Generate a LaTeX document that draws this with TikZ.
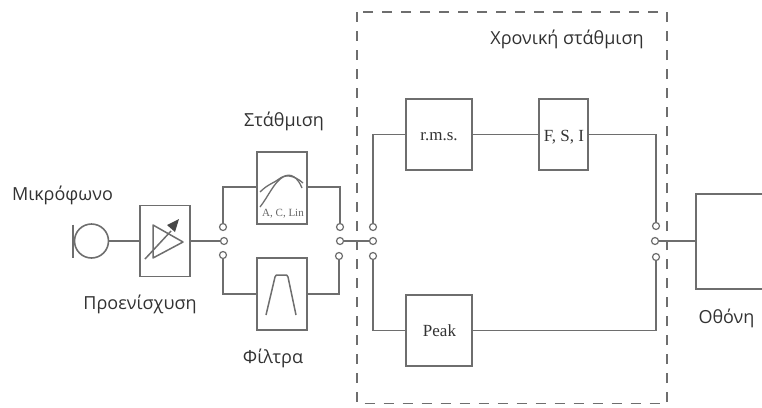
\documentclass[tikz,border=0pt]{standalone}
\usepackage{fontspec}
\setmainfont{Open Sans}
\newfontfamily\serifbox{Liberation Serif}
\definecolor{ln}{RGB}{110,110,110}
\definecolor{txt}{RGB}{50,50,50}
\tikzset{
  wire/.style={draw=ln,line width=1.6pt},
  blk/.style={draw=ln,line width=1.6pt,fill=white,minimum width=#1,inner sep=0pt},
  term/.style={circle,draw=ln,line width=1.2pt,fill=white,minimum size=7pt,inner sep=0pt},
  lab/.style={text=txt,font=\fontsize{18pt}{20pt}\selectfont,inner sep=0pt},
  boxlab/.style={text=black!80,font=\serifbox\fontsize{17pt}{19pt}\selectfont,inner sep=0pt},
}
\begin{document}
\begin{tikzpicture}[x=1pt,y=-1pt]
\useasboundingbox (0,0) rectangle (762,407);
\draw[ln,line width=1.6pt,dash pattern=on 10pt off 9pt] (357,12) rectangle (667,403.5);
% blocks
\node[blk=50pt,minimum height=71pt] (pre) at (165,241) {};
\node[blk=50pt,minimum height=72pt] (st) at (282,188) {};
\node[blk=50pt,minimum height=72pt] (fil) at (282,294) {};
\node[blk=66pt,minimum height=71pt] (rms) at (439,134.5) {};
\node[blk=49pt,minimum height=71pt] (fsi) at (563.5,134.5) {};
\node[blk=66pt,minimum height=71pt] (peak) at (439,330.5) {};
\node[boxlab] at (439,137) {r.m.s.};
\node[boxlab] at (564,137) {F, S, I};
\node[boxlab] at (439.5,331) {Peak};
% microphone
\node[circle,draw=ln,line width=1.6pt,minimum size=34pt,inner sep=0pt] (mic) at (91.5,241) {};
\coordinate (barT) at (73,224.5);
\coordinate (barB) at (73,258);
\draw[wire] (barT) -- (barB);
% terminals
\node[term] (a1) at (223,227) {};
\node[term] (a2) at (224,241) {};
\node[term] (a3) at (223,255) {};
\node[term] (b1) at (340,227) {};
\node[term] (b2) at (340,241) {};
\node[term] (b3) at (339,256) {};
\node[term] (c1) at (373,227) {};
\node[term] (c2) at (373,241) {};
\node[term] (c3) at (373,256) {};
\node[term] (d1) at (656,226) {};
\node[term] (d2) at (655,241) {};
\node[term] (d3) at (656,257) {};
% connectors
\draw[wire] (mic) -- (pre);
\draw[wire] (pre) -- (a2);
\draw[wire] (a1) |- (st.west|-0,187);
\draw[wire] (a3) |- (fil.west);
\draw[wire] (st.east|-0,187) -| (b1);
\draw[wire] (fil.east) -| (b3);
\draw[wire] (b2) -- (c2);
\draw[wire] (c1) |- (rms.west);
\draw[wire] (c3) |- (peak.west);
\draw[wire] (rms) -- (fsi);
\draw[wire] (fsi) -| (d1);
\draw[wire] (peak.east) -| (d3);
% display
\coordinate (dTR) at (762,194);
\coordinate (dBR) at (762,289);
\coordinate (dL) at (696,241);
\draw[wire] (dTR) -- (696,194) -- (696,289) -- (dBR);
\draw[wire] (d2) -- (dL);
% amp symbol
\draw[ln,line width=1.5pt,line join=round] (153,225) -- (183,242) -- (153,258) -- cycle;
\draw[ln,line width=1.5pt] (145,259) -- (171,231);
\fill[ln!65!black] (179,219) -- (175,232) -- (167,225) -- cycle;
% weighting curves
\draw[ln,line width=1.3pt] (260,192) .. controls (268,184) and (274,183) .. (279,179) .. controls (285,174) and (294,175) .. (303,183);
\draw[ln,line width=1.3pt] (260,207) .. controls (268,197) and (274,182) .. (283,177) .. controls (291,172) and (298,178) .. (302,188);
\node[font=\serifbox\fontsize{11pt}{13pt}\selectfont,text=black!60,inner sep=0pt] at (283,214) {A, C, Lin};
% band-pass
\draw[ln,line width=1.5pt,line join=round] (266,315) -- (275,277) .. controls (276,275) .. (278,275) -- (285,275) .. controls (287,275) .. (288,277) -- (296,315);
% labels
\node[lab] at (567,39) {Χρονική στάθμιση};
\node[lab] at (284,121) {Στάθμιση};
\node[lab] at (62.5,195) {Μικρόφωνο};
\node[lab] at (140,304) {Προενίσχυση};
\node[lab] at (273,358) {Φίλτρα};
\node[lab] at (726.5,318) {Οθόνη};
\end{tikzpicture}
\end{document}
